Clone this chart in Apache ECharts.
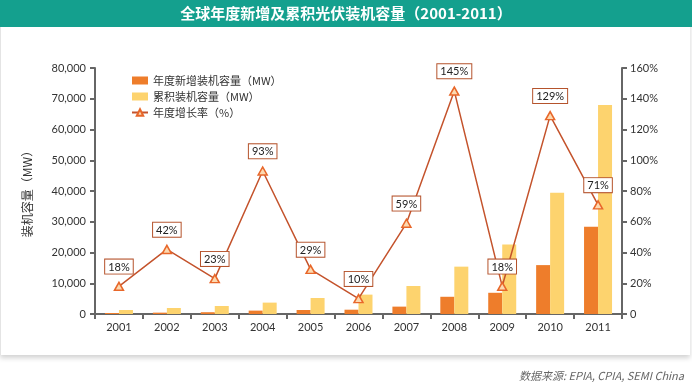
<!DOCTYPE html>
<html><head><meta charset="utf-8">
<script src="https://cdn.jsdelivr.net/npm/echarts@6/dist/echarts.min.js"></script>
<style>
html,body{margin:0;padding:0;background:#fff;width:692px;height:387px;overflow:hidden;}
#panel{position:absolute;left:0;top:0;width:689px;height:355px;background:#fff;box-shadow:0 3px 5px rgba(0,0,0,0.18);border-left:1px solid #e4e4e4;}
#chart{position:absolute;left:0;top:0;width:692px;height:387px;}
</style></head>
<body><div id="panel"></div><div id="chart"></div>
<script>
const categories = ['2001','2002','2003','2004','2005','2006','2007','2008','2009','2010','2011'];
const annualNew = [330, 440, 580, 1100, 1300, 1400, 2400, 5600, 6900, 15900, 28400];
const cumulative = [1300, 1950, 2600, 3700, 5200, 6300, 9100, 15400, 22600, 39400, 68000];
const growth = [18, 42, 23, 93, 29, 10, 59, 145, 18, 129, 71];

const font = 'Lato, "Noto Sans CJK SC", sans-serif';
const chart = echarts.init(document.getElementById('chart'));
chart.setOption({
  animation: false,
  textStyle: {fontFamily: font},
  graphic: [
    {type:'rect', left:0, top:0, shape:{width:692, height:27}, style:{fill:'#14a08e'}},
    {type:'text', left:'center', top:6, style:{text:'全球年度新增及累积光伏装机容量（2001-2011）', fill:'#fff', font:'bold 15px "Noto Sans CJK SC", sans-serif'}},
    {type:'text', right:8, top:370, style:{text:'数据来源: EPIA, CPIA, SEMI China', fill:'#666', font:'italic 11px "Noto Sans CJK SC", sans-serif'}}
  ],
  grid: {left:95, right:70, top:68, bottom:73, containLabel:false},
  legend: {
    orient:'vertical', left:126, top:70, itemGap:5, itemWidth:16, itemHeight:8,
    textStyle:{fontSize:11, color:'#333', fontFamily:'"Noto Sans CJK SC", sans-serif'},
    data:[
      {name:'年度新增装机容量（MW）', icon:'rect'},
      {name:'累积装机容量（MW）', icon:'rect'},
      {name:'年度增长率（%）'}
    ]
  },
  xAxis: {
    type:'category', data:categories,
    axisLine:{lineStyle:{color:'#666', width:2}},
    axisTick:{show:true, length:5, lineStyle:{color:'#666', width:2}},
    axisLabel:{color:'#333', fontSize:11, margin:8}
  },
  yAxis: [
    {type:'value', min:0, max:80000, interval:10000,
     name:'装机容量（MW）', nameLocation:'middle', nameGap:62, nameRotate:90,
     nameTextStyle:{color:'#333', fontSize:12, fontFamily:'"Noto Sans CJK SC", sans-serif'},
     axisLine:{show:true, lineStyle:{color:'#666', width:2}},
     axisTick:{show:true, length:5, lineStyle:{color:'#666', width:2}},
     splitLine:{show:false},
     axisLabel:{color:'#333', fontSize:11, margin:9, formatter:v=>v.toLocaleString('en-US')}
    },
    {type:'value', min:0, max:160, interval:20, position:'right',
     axisLine:{show:true, lineStyle:{color:'#666', width:2}},
     axisTick:{show:true, length:5, lineStyle:{color:'#666', width:2}},
     splitLine:{show:false},
     axisLabel:{color:'#333', fontSize:11, margin:8, formatter:v=> v===0 ? '0' : v+'%'}
    }
  ],
  series: [
    {name:'年度新增装机容量（MW）', type:'bar', data:annualNew, barWidth:14, barGap:'0%', itemStyle:{color:'#ee7d2b'}},
    {name:'累积装机容量（MW）', type:'bar', data:cumulative, barWidth:14, barGap:'0%', itemStyle:{color:'#fdd36e'}},
    {name:'年度增长率（%）', type:'line', yAxisIndex:1, data:growth,
     lineStyle:{color:'#c4532c', width:1.5},
     symbol:'triangle', symbolSize:[9,8],
     itemStyle:{color:'#fcd9b0', borderColor:'#e8672a', borderWidth:1.5},
     label:{show:true, position:'top', distance:8, formatter:p=>p.value+'%',
       color:'#222', fontSize:11, backgroundColor:'#fff', borderColor:'#b5532c', borderWidth:1,
       padding:[2,3,1,3]},
     z:5
    }
  ]
});
</script></body></html>
